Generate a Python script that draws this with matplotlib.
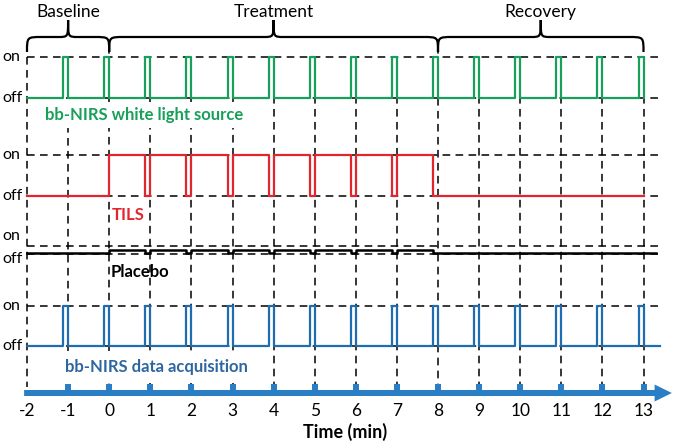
import matplotlib.pyplot as plt
from matplotlib.path import Path
from matplotlib.patches import PathPatch

plt.rcParams['font.family'] = ['Lato', 'DejaVu Sans']

# time axis (min)
minutes = list(range(-2, 14))
t_start, t_end = -2, 13

# bb-NIRS white light source / data acquisition: short pulses ending at each minute
nirs_pulses = list(range(-1, 14))
pulse_width = 0.12

# TILS (and placebo) on from 0 to ~7.9 min, with short breaks at each minute
tils_on = 0
tils_off = 7.88
tils_breaks = list(range(1, 8))

# phases: name, start, end
phases = ["Baseline", "Treatment", "Recovery"]
phase_start = [-2, 0, 8]
phase_end = [0, 8, 13]

green = '#18a05a'
red = '#e3262e'
blue = '#1f6db0'
blue_axis = '#2a7ec4'
blue_text = '#2e67a0'


def pulse_train(pulses, width, end):
    t, s = [t_start], [0]
    for p in pulses:
        t += [p - width, p - width, p, p]
        s += [0, 1, 1, 0]
    t.append(end)
    s.append(0)
    return t, s


def tils_signal(end):
    t, s = [t_start, tils_on], [0, 0]
    t.append(tils_on)
    s.append(1)
    for b in tils_breaks:
        t += [b - pulse_width, b - pulse_width, b, b]
        s += [1, 0, 0, 1]
    t += [tils_off, tils_off, end]
    s += [1, 0, 0]
    return t, s


def levels(s, off, on):
    return [off + v * (on - off) for v in s]


def brace(ax, x0, x1, y_end, y_line, y_tip, r_end=0.36, r_tip=0.24):
    xm = (x0 + x1) / 2
    verts = [
        (x0, y_end), (x0, y_line), (x0, y_line), (x0 + r_end, y_line),
        (xm - r_tip, y_line),
        (xm, y_line), (xm, y_line), (xm, y_tip),
        (xm, y_line), (xm, y_line), (xm + r_tip, y_line),
        (x1 - r_end, y_line),
        (x1, y_line), (x1, y_line), (x1, y_end),
    ]
    codes = [Path.MOVETO, Path.CURVE4, Path.CURVE4, Path.CURVE4,
             Path.LINETO,
             Path.CURVE4, Path.CURVE4, Path.CURVE4,
             Path.CURVE4, Path.CURVE4, Path.CURVE4,
             Path.LINETO,
             Path.CURVE4, Path.CURVE4, Path.CURVE4]
    ax.add_patch(PathPatch(Path(verts, codes), fill=False, lw=1.6, color='black'))


fig = plt.figure(figsize=(6.75, 4.46), dpi=100)
ax = fig.add_axes([0, 0, 1, 1])
px = 41.1
ax.set_xlim(-2 - 27 / px, -2 + 648 / px)
ax.set_ylim(446, 0)
ax.axis('off')

dash = dict(color='black', lw=1.1, ls=(0, (5, 3.5)))

# channel levels (y, pixel-like units from the top)
g_on, g_off = 57, 98
r_on, r_off = 155, 196
p_on_ref, p_off_ref, p_on = 246, 254, 249.5
b_on, b_off = 306, 346
axis_y = 393

# vertical guides
for m in minutes:
    top = 112 if m == -1 else (46 if m in (0, 8) else g_on)
    ax.plot([m, m], [top, axis_y - 6], zorder=1, **dash)

# horizontal guides
for y in [g_on, g_off, r_on, r_off, p_on_ref, p_off_ref, b_on, b_off]:
    ax.plot([t_start, 13.45], [y, y], zorder=1, **dash)

# signals
t, s = pulse_train(nirs_pulses, pulse_width, t_end)
ax.plot(t, levels(s, g_off, g_on), color=green, lw=1.6, zorder=3)

t, s = tils_signal(t_end)
ax.plot(t, levels(s, r_off, r_on), color=red, lw=1.6, zorder=3)

t, s = tils_signal(13.3)
ax.plot(t, levels(s, p_off_ref - 1, p_on), color='black', lw=1.8, zorder=3)

t, s = pulse_train(nirs_pulses, pulse_width, 13.4)
ax.plot(t, levels(s, b_off, b_on), color=blue, lw=1.6, zorder=3)

# on/off labels
for y_on, y_off in [(g_on, g_off), (r_on, r_off), (236, 259), (b_on, b_off)]:
    ax.text(-2.6, y_on, "on", fontsize=11.5, va='center', ha='left')
    ax.text(-2.6, y_off, "off", fontsize=11.5, va='center', ha='left')

# channel names
box = dict(facecolor='white', edgecolor='none', pad=3.5)
ax.text(-1.55, 115, "bb-NIRS white light source", color=green, fontsize=12,
        fontweight='bold', va='center', bbox=box, zorder=2)
ax.text(0.05, 215, "TILS", color=red, fontsize=12, fontweight='bold', va='center')
ax.text(0.03, 272, "Placebo", color='black', fontsize=12, fontweight='bold', va='center')
ax.text(-1.08, 367, "bb-NIRS data acquisition", color=blue_text, fontsize=12,
        fontweight='bold', va='center', bbox=dict(box, pad=6), zorder=2)

# phase braces
for name, a, b in zip(phases, phase_start, phase_end):
    brace(ax, a, b, 52, 37, 20)
    ax.text((a + b) / 2, 12, name, fontsize=12.5, ha='center', va='center')

# time axis arrow with tick marks
ax.arrow(-2.07, axis_y, 13.69 + 2.07, 0, width=6, head_width=17,
         head_length=0.42, length_includes_head=True, color=blue_axis, lw=0, zorder=4)
ax.scatter(minutes[1:], [axis_y - 6] * len(minutes[1:]), marker='s', s=22,
           color=blue_axis, zorder=4, linewidths=0)
for m in minutes:
    ax.text(m, 411, str(m), fontsize=12.5, ha='center', va='center')
ax.text(5.74, 432, "Time (min)", fontsize=13, fontweight='bold', ha='center', va='center')

fig.savefig('out.png', dpi=100)
